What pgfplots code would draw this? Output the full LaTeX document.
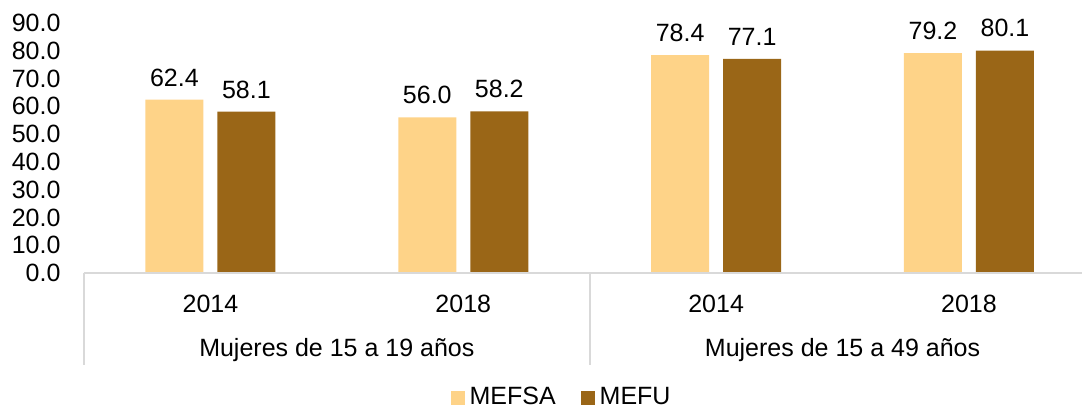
\documentclass[border=0pt]{standalone}
\usepackage{pgfplots}
\pgfplotsset{compat=1.18}
\usepackage{fontspec}
\setmainfont{Liberation Sans}
\definecolor{mefsa}{RGB}{254,211,136}
\definecolor{mefu}{RGB}{154,102,23}
\definecolor{sepgray}{RGB}{217,217,217}

\begin{document}
\begin{tikzpicture}
\begin{axis}[
    scale only axis, width=399.2pt, height=100pt,
    xmin=-0.5, xmax=3.447, ymin=0, ymax=90,
    ybar=5.6pt, bar width=23.2pt,
    axis line style={draw=none},
    tick style={draw=none},
    xtick={0,1,2,3}, xticklabels={2014,2018,2014,2018},
    ytick={0,10,...,90},
    /pgf/number format/assume math mode=true,
    y tick label style={/pgf/number format/fixed, /pgf/number format/fixed zerofill,
        /pgf/number format/precision=1, xshift=-5.9pt},
    x tick label style={yshift=-1pt},
    nodes near coords,
    nodes near coords style={/pgf/number format/fixed, /pgf/number format/fixed zerofill,
        /pgf/number format/precision=1, yshift=1.8pt, text=black},
    legend style={at={(0.48,-0.5)}, anchor=center, draw=none, legend columns=2,
        /tikz/every even column/.append style={column sep=8pt}},
    legend image code/.code={\fill[#1] (0pt,-2.8pt) rectangle (5.6pt,2.8pt);},
    clip=false,
]
\addplot[fill=mefsa, draw=none] coordinates {(0,62.4) (1,56.0) (2,78.4) (3,79.2)};
\addplot[fill=mefu, draw=none] coordinates {(0,58.1) (1,58.2) (2,77.1) (3,80.1)};
\legend{MEFSA, MEFU}
% baseline and group separators
\draw[sepgray, line width=0.8pt] (axis cs:-0.5,0) -- (axis cs:3.447,0);
\draw[sepgray, line width=0.8pt] (axis cs:-0.5,0) -- ([yshift=-36.8pt]axis cs:-0.5,0);
\draw[sepgray, line width=0.8pt] (axis cs:1.5,0) -- ([yshift=-36.8pt]axis cs:1.5,0);
\node at ([yshift=-31pt]axis cs:0.5,0) {Mujeres de 15 a 19 años};
\node at ([yshift=-31pt]axis cs:2.5,0) {Mujeres de 15 a 49 años};
\end{axis}
\pgfresetboundingbox
\path[use as bounding box] (-33.6pt,-54.4pt) rectangle (399.2pt,109.2pt);
\end{tikzpicture}
\end{document}
